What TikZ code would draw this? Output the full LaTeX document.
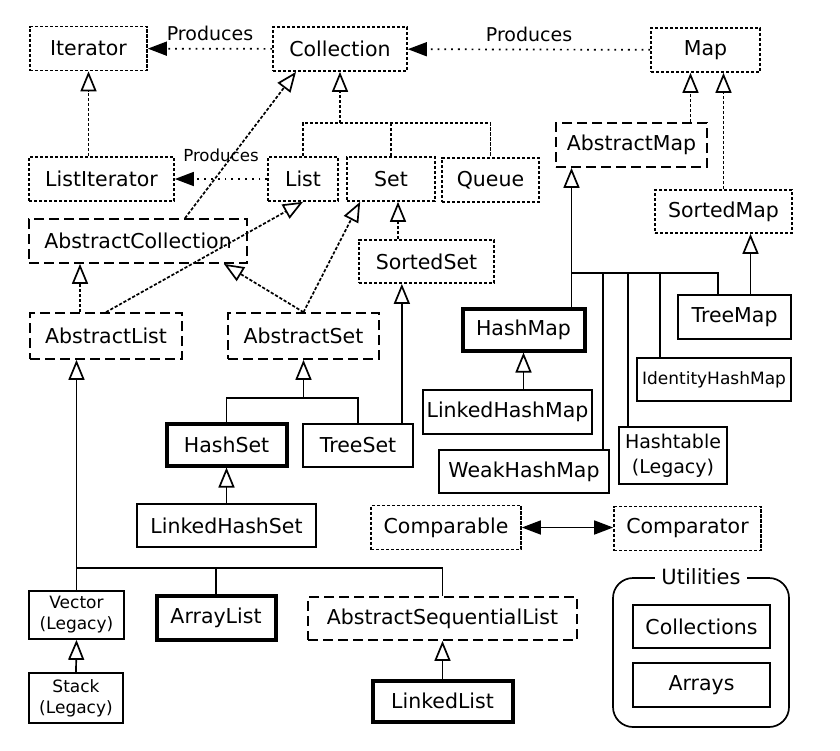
\documentclass[tikz,border=0pt]{standalone}
\usepackage{fontspec}
\setmainfont{DejaVu Sans}
\usetikzlibrary{arrows.meta}

\tikzset{
  box/.style={draw, line width=1.7pt, inner sep=0pt, minimum height=44pt, font=\fontsize{20.5}{24}\selectfont},
  iface/.style={box, dash pattern=on 3.2pt off 1.8pt},
  abstr/.style={box, dash pattern=on 10pt off 5pt},
  impl/.style={box},
  heavy/.style={box, line width=4pt},
  legacy/.style={box, align=center, font=\fontsize{17}{21}\selectfont},
  ifline/.style={line width=1.7pt, dash pattern=on 3.2pt off 1.8pt},
  cline/.style={line width=1.7pt},
  inh/.style={-{Triangle[open, length=20pt, width=16pt]}},
  prod/.style={line width=1.7pt, dash pattern=on 1.8pt off 5pt, -{Triangle[length=19pt, width=14pt]}},
  lbl/.style={font=\fontsize{19}{22}\selectfont, inner sep=2pt},
}

\begin{document}
\begin{tikzpicture}[x=1pt, y=-1pt]
\useasboundingbox (0,0) rectangle (840,750);
\node[iface, minimum width=117pt] (iter) at (88.5,48.5) {Iterator};
\node[iface, minimum width=134pt] (coll) at (340,49) {Collection};
\node[iface, minimum width=109pt] (map) at (705.5,50) {Map};
\node[iface, minimum width=145pt] (liter) at (101.5,179) {ListIterator};
\node[iface, minimum width=70pt] (lst) at (303,179) {List};
\node[iface, minimum width=88pt] (st) at (391,179) {Set};
\node[iface, minimum width=97pt] (que) at (490.5,180) {Queue};
\node[abstr, minimum width=218pt] (acoll) at (138,241) {AbstractCollection};
\node[abstr, minimum width=151pt] (amap) at (631.5,145) {AbstractMap};
\node[iface, minimum width=137pt, minimum height=43pt] (smap) at (723.5,211.5) {SortedMap};
\node[iface, minimum width=135pt, minimum height=43pt] (sset) at (426.5,261.5) {SortedSet};
\node[abstr, minimum width=152pt, minimum height=46pt] (alist) at (106,336) {AbstractList};
\node[abstr, minimum width=151pt, minimum height=46pt] (aset) at (303.5,336) {AbstractSet};
\node[impl, minimum width=113pt] (tmap) at (734.5,317) {TreeMap};
\node[heavy, minimum width=122pt, minimum height=42pt] (hmap) at (523.5,329.5) {HashMap};
\node[legacy, minimum width=154pt, minimum height=43pt] (ihm) at (714,379.5) {IdentityHashMap};
\node[impl, minimum width=169pt] (lhm) at (507.5,412) {LinkedHashMap};
\node[heavy, minimum width=120pt, minimum height=42pt] (hset) at (226.5,444.5) {HashSet};
\node[impl, minimum width=110pt, minimum height=43pt] (tset) at (358,445.5) {TreeSet};
\node[legacy, font=\fontsize{19}{25}\selectfont, minimum width=108pt, minimum height=57pt] (htab) at (673,455.5) {Hashtable\\(Legacy)};
\node[impl, minimum width=170pt, minimum height=43pt] (whm) at (524,471.5) {WeakHashMap};
\node[impl, minimum width=179pt, minimum height=43pt] (lhset) at (226.5,525.5) {LinkedHashSet};
\node[iface, minimum width=150pt] (cmpble) at (446,527.5) {Comparable};
\node[iface, minimum width=147pt] (cmptor) at (687.5,528.5) {Comparator};
\node[legacy, minimum width=95pt, minimum height=48pt] (vec) at (76.5,615) {Vector\\(Legacy)};
\node[heavy, minimum width=119pt, minimum height=44pt] (arl) at (216,617.5) {ArrayList};
\node[abstr, minimum width=269pt, minimum height=43pt] (asl) at (442.5,618.5) {AbstractSequentialList};
\node[legacy, minimum width=94pt, minimum height=50pt] (stk) at (76,698) {Stack\\(Legacy)};
\node[heavy, minimum width=140pt, minimum height=41pt] (llst) at (442.5,701) {LinkedList};
\node[cline, draw, rounded corners=20pt, minimum width=176pt, minimum height=149pt] (ubox) at (701,652.5) {};
\node[box, draw=none, fill=white, inner xsep=6pt, minimum height=0pt, font=\fontsize{21}{24}\selectfont] (ulbl) at (ubox.north) {Utilities};
\node[impl, minimum width=137pt, minimum height=43pt] (colls) at (701.5,626.5) {Collections};
\node[impl, minimum width=137pt] (arrs) at (701.5,685) {Arrays};

\path[prod]
  (coll) edge node[lbl, above=5pt] {Produces} (iter)
  (map) edge node[lbl, above=5pt] {Produces} (coll)
  (lst) edge node[lbl, above=14pt, font=\fontsize{16.6}{20}\selectfont] {Produces} (liter);

\coordinate (cj) at (340,123);
\draw[ifline] (lst.north) |- (cj) -| (que.north);
\draw[ifline] (st.north) -- (st.north |- cj);
\draw[ifline, inh] (cj) -- (coll.south);
\path[ifline, inh]
  (iter.south |- liter.north) edge (iter.south)
  ([xshift=47pt]acoll.north) edge ([xshift=-44pt]coll.south)
  ([xshift=-26pt]alist.north) edge ([xshift=-26pt]alist.north |- acoll.south)
  (alist.north) edge (lst.south)
  (aset.north) edge ([xshift=-24pt]acoll.south east)
  (aset.north) edge ([xshift=14pt]st.south west)
  ([xshift=7pt]st.south |- sset.north) edge ([xshift=7pt]st.south)
  ([xshift=-15pt]map.south |- amap.north) edge ([xshift=-15pt]map.south)
  (smap.north) edge (smap.north |- map.south);

\coordinate (sj) at (aset.south |- 0,398);
\draw[cline] (hset.north) |- (sj) -| (tset.north);
\draw[cline, inh] (sj) -- (aset.south);
\coordinate (lj) at (vec.north |- 0,568);
\draw[cline] (arl.north) |- (lj);
\draw[cline] (asl.north) |- (lj);
\coordinate (mj) at ([xshift=-15pt]hmap.north east |- 0,273);
\draw[cline] ([xshift=-7pt]whm.north east) |- (mj);
\draw[cline] ([xshift=10pt]htab.north west) |- (mj);
\draw[cline] ([xshift=24pt]ihm.north west) |- (mj);
\draw[cline] ([xshift=41pt]tmap.north west) |- (mj);
\path[cline, inh]
  (lhset.north) edge (hset.south)
  ([xshift=-12pt]tset.north east) edge ([xshift=-12pt]tset.north east |- sset.south)
  (vec.north) edge (vec.north |- alist.south)
  (stk.north) edge (vec.south)
  (llst.north) edge (asl.south)
  ([xshift=-15pt]hmap.north east) edge ([xshift=-15pt]hmap.north east |- amap.south)
  (hmap.south |- lhm.north) edge (hmap.south)
  ([xshift=16pt]tmap.north) edge ([xshift=16pt]tmap.north |- smap.south);
\draw[cline, {Triangle[length=19pt, width=14pt]}-{Triangle[length=19pt, width=14pt]}] (cmpble.east) -- (cmpble.east -| cmptor.west);
\end{tikzpicture}
\end{document}
